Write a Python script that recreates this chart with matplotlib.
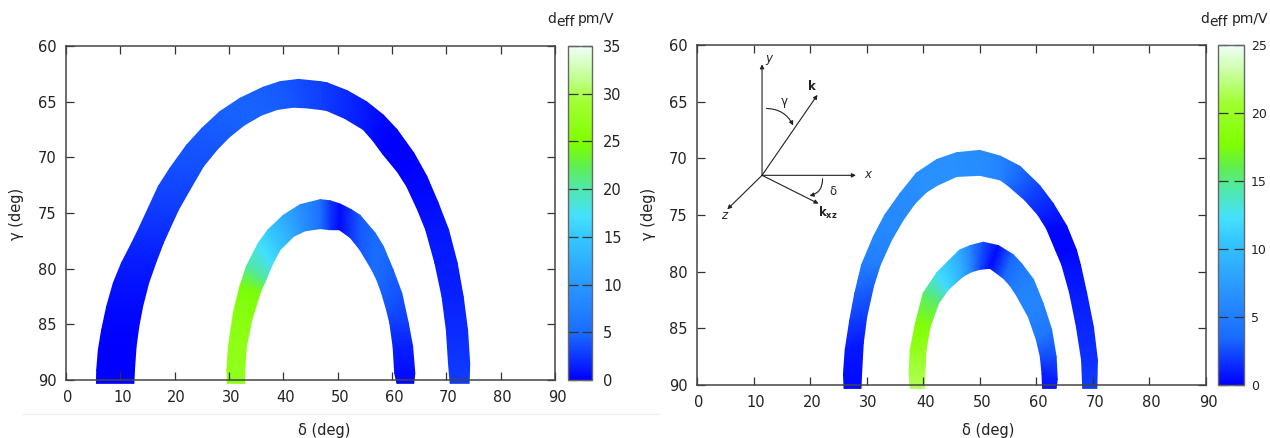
# d_eff maps, two panels
import matplotlib
matplotlib.use("Agg")
import matplotlib.pyplot as plt
import numpy as np
from matplotlib.colors import LinearSegmentedColormap, Normalize
from matplotlib.lines import Line2D
from matplotlib.transforms import ScaledTranslation

W, H = 1270, 438

# left panel, outer band
L1_out_d = [5.6, 5.65, 5.95, 6.56, 7.48, 8.7, 10.2, 12.1, 13.3, 15.3, 17, 19.1, 22.2, 25, 28.3, 32, 36.3, 39.4, 42.8, 46.8, 48, 51.7, 55.3, 58.4, 60.9, 64, 66.4, 68.5, 70.4, 72, 73.1, 73.9, 74.3, 74.2]
L1_out_g = [90.3, 89.1, 87.3, 85.5, 83.4, 81.3, 79.5, 77.7, 76.5, 74.4, 72.6, 71, 68.9, 67.4, 65.9, 64.7, 63.7, 63.2, 63, 63.2, 63.3, 64, 65, 66.2, 67.5, 69.6, 71.7, 74.1, 76.5, 79.5, 82.5, 85.5, 88.5, 90.3]
L1_in_d = [12.5, 12.6, 12.9, 13.4, 14.1, 15.2, 16.5, 17.9, 19.0, 20.7, 22.8, 25.3, 27.8, 30, 32.8, 36, 38.9, 41.8, 44, 46.8, 48, 51.3, 54.7, 56.5, 58.3, 61, 62.7, 64.7, 66.2, 67.9, 69.2, 70, 70.4, 70.7]
L1_in_g = [90.3, 89.1, 87, 85.2, 83.4, 81.3, 79.5, 77.7, 76.5, 74.7, 72.9, 70.8, 69.3, 68.2, 67.1, 66.2, 65.7, 65.5, 65.55, 65.7, 65.8, 66.5, 67.5, 68.5, 69.7, 71.3, 72.6, 74.7, 76.5, 79.5, 82.5, 85.5, 88.5, 90.3]
L1_val = [0, 0, 0, 0.2, 0.5, 0.9, 1.3, 1.8, 2.2, 2.8, 3.2, 3.6, 3.9, 4.2, 4.4, 4.6, 4.3, 4, 3.5, 3, 2.7, 2, 1.2, 0.5, 0.1, 0, 0.3, 0.6, 1, 1.3, 1.6, 2, 2.5, 2.8]

# left panel, inner band
L2_out_d = [29.7, 29.6, 29.9, 30.8, 32, 33.2, 35.4, 37.2, 40, 43.1, 46.8, 48.6, 50.5, 52.5, 54.1, 56.9, 58.4, 60.2, 61.8, 63, 63.8, 64.2, 64]
L2_out_g = [90.3, 89.1, 87, 84, 81.6, 79.8, 77.7, 76.5, 75.2, 74.25, 73.8, 73.9, 74.2, 74.7, 75.2, 76.8, 78, 80.1, 82.2, 84.9, 87, 89.4, 90.3]
L2_in_d = [32.9, 32.9, 33.2, 34.2, 35.7, 36.8, 38, 39.4, 41.9, 44, 46.8, 48.6, 50.3, 52.3, 54.1, 56.3, 57.2, 58.1, 59, 59.6, 60.2, 60.5, 60.9]
L2_in_g = [90.3, 89.1, 87, 84.6, 82.2, 81, 79.6, 78.3, 77.1, 76.6, 76.4, 76.5, 76.5, 77.2, 78.3, 80.1, 81, 82.2, 83.7, 84.9, 87, 89.4, 90.3]
L2_val = [27, 27, 26.8, 26, 24.5, 20.5, 17, 15, 12, 9, 5.5, 2.5, 0.5, 2.5, 4, 5, 5, 4.5, 3.8, 2.8, 1.5, 0.6, 0.4]

# right panel, outer band
R1_out_d = [26, 25.9, 26.2, 27, 27.9, 29.1, 31.2, 33.2, 35.9, 38.8, 42.4, 45.9, 50, 53.6, 57.1, 60.6, 63, 65.4, 67.1, 67.8, 68.9, 70.1, 70.8, 70.7]
R1_out_g = [90.3, 89, 86.9, 84.3, 81.9, 79.4, 76.9, 75, 73.1, 71.3, 70.1, 69.5, 69.3, 69.8, 70.7, 72.4, 74, 76, 78.1, 79.4, 81.9, 84.9, 87.8, 90.3]
R1_in_d = [29, 29.1, 29.4, 30, 31.2, 32.4, 34.4, 36.5, 38.5, 40.5, 42.4, 45.9, 50, 53.6, 55, 58, 60.3, 61.8, 63.4, 64.5, 65.9, 67.1, 68, 68.2]
R1_in_g = [90.3, 89, 86.3, 84, 81.3, 79.4, 77.2, 75.4, 74, 73, 72.4, 71.6, 71.5, 71.9, 72.4, 73.7, 75, 76.2, 78.1, 79.4, 81.9, 84.9, 87.8, 90.3]
R1_val = [0.3, 0.4, 0.8, 2, 3.2, 5, 5.8, 6, 6.2, 6.5, 6.5, 6.5, 6.3, 5.5, 3.8, 2.2, 1.2, 0.2, 0.1, 0.5, 0.9, 1.3, 1.6, 2]

# right panel, inner band
R2_out_d = [37.7, 37.5, 37.7, 38.6, 40, 42.4, 44.4, 46.4, 48.3, 50.6, 53.3, 55.9, 57.4, 59.5, 61.2, 62.7, 63.5, 63.7, 63.5]
R2_out_g = [90.3, 89, 86.9, 84.6, 81.9, 80.1, 79.1, 78.1, 77.7, 77.4, 77.7, 78.5, 79.3, 80.7, 82.8, 85.1, 87.5, 89.5, 90.3]
R2_in_d = [40.2, 40.3, 40.5, 41.2, 42.7, 44.4, 45.7, 47.1, 48.6, 50, 51.8, 54.2, 55.3, 56.5, 58.6, 60, 60.7, 61, 61.1]
R2_in_g = [90.3, 89, 86.9, 84.9, 82.8, 81.6, 81, 80.4, 80, 79.8, 79.7, 80.6, 81.2, 82.1, 84, 86, 87.5, 89, 90.3]
R2_val = [21.5, 21, 19.5, 18, 15.5, 12, 10.5, 8.5, 5.5, 2.5, 0.3, 3.5, 4.5, 5.5, 5.5, 4.5, 2.5, 1, 0.6]

d_ticks = np.arange(0, 100, 10)
g_ticks = [60, 65, 70, 75, 80, 85, 90]

cmap = LinearSegmentedColormap.from_list("deff", [
    (0.0, "#0000ff"), (0.14, "#1a6cff"), (0.28, "#2a96ff"), (0.43, "#35c8ff"),
    (0.49, "#45e0ff"), (0.57, "#50e8b0"), (0.64, "#60ee50"), (0.71, "#7fff00"),
    (0.83, "#a0ff30"), (0.92, "#c8ffa0"), (1.0, "#f0fff8")])


def axes_px(left, top, right, bottom):
    return fig.add_axes([left / W, 1 - bottom / H, (right - left) / W, (bottom - top) / H])


def band(ax, od, og, id_, ig, val, norm):
    X = np.array([od, id_])
    Y = np.array([og, ig])
    C = np.array([val, val])
    return ax.pcolormesh(X, Y, C, shading="gouraud", cmap=cmap, norm=norm, clip_on=False)


def title_px(x_d, x_eff, x_unit):
    # the subscript in the reference is nearly full size, so three pieces
    for x, s, y in [(x_d, "d", 23), (x_eff, "eff", 26), (x_unit, "pm/V", 23)]:
        fig.text(x / W, 1 - y / H, s, ha="left", va="baseline", fontsize=10, color="#222222")


def panel(box, cbox, vmax, cb_size, cb_pad, bands, xlab_px):
    norm = Normalize(0, vmax)
    ax = axes_px(*box)
    for b in bands:
        m = band(ax, *b, norm)
    ax.set_xlim(0, 90)
    ax.set_ylim(90, 60)
    ax.set_xticks(d_ticks)
    ax.set_yticks(g_ticks)
    ax.tick_params(direction="in", top=True, right=True, length=6, width=0.9, labelsize=10.5,
                   color="#333333", labelcolor="#222222", pad=7)
    shift = ScaledTranslation(2 / 100, 0, fig.dpi_scale_trans)
    for lab in ax.get_xticklabels():
        lab.set_transform(lab.get_transform() + shift)
    for s in ax.spines.values():
        s.set_color("#444444")
        s.set_linewidth(1.1)
    fig.text(xlab_px / W, 1 - 430 / H, "δ (deg)", ha="center", va="center", fontsize=10.5, color="#222222")
    fig.text((box[0] - 49) / W, 1 - 214 / H, "γ (deg)", rotation=90, ha="center", va="center",
             fontsize=10.5, color="#222222")
    cax = axes_px(*cbox)
    cb = fig.colorbar(m, cax=cax)
    cb.set_ticks(np.arange(0, vmax + 1, 5))
    cb.ax.tick_params(direction="in", left=True, right=True, length=7, width=0.9, labelsize=cb_size,
                      color="#333333", labelcolor="#222222", pad=cb_pad)
    cb.outline.set_edgecolor("#666666")
    cb.outline.set_linewidth(1.0)
    return ax


fig = plt.figure(figsize=(W / 100, H / 100), dpi=100)

panel((66, 46, 555, 380), (568, 46, 592, 380), 35, 10.5, 8,
      [(L1_out_d, L1_out_g, L1_in_d, L1_in_g, L1_val),
       (L2_out_d, L2_out_g, L2_in_d, L2_in_g, L2_val)], 324)
ax2 = panel((697, 45, 1206, 385), (1218, 45, 1244, 385), 25, 9, 5,
            [(R1_out_d, R1_out_g, R1_in_d, R1_in_g, R1_val),
             (R2_out_d, R2_out_g, R2_in_d, R2_in_g, R2_val)], 988)
title_px(547, 556, 578)
title_px(1200, 1209, 1232)

# faint rule under the left plot
fig.add_artist(Line2D([22 / W, 659 / W], [1 - 413.5 / H] * 2, color="#f0f0f0", lw=1))

# coordinate sketch on the right panel
origin = (11.5, 71.5)
arrow = dict(arrowstyle="-|>", color="#222222", lw=0.8, mutation_scale=6, shrinkA=0, shrinkB=0)
for end in [(11.5, 61.7), (28.1, 71.5), (5.35, 74.5), (21.3, 64.4), (21.5, 74.0)]:
    ax2.annotate("", xy=end, xytext=origin, arrowprops=arrow)
ax2.annotate("", xy=(17.0, 67.1), xytext=(12.3, 65.6),
             arrowprops=dict(arrow, connectionstyle="arc3,rad=-0.3"))
ax2.annotate("", xy=(19.9, 73.3), xytext=(22.2, 71.8),
             arrowprops=dict(arrow, connectionstyle="arc3,rad=-0.4"))
txt = dict(ha="center", va="center", fontsize=8.5, color="#222222")
ax2.text(12.7, 61.2, "y", style="italic", **txt)
ax2.text(20.3, 63.7, "k", weight="bold", **txt)
ax2.text(15.5, 65.0, "γ", **txt)
ax2.text(30.2, 71.4, "x", style="italic", **txt)
ax2.text(24.0, 72.9, "δ", **txt)
ax2.text(4.8, 75.0, "z", style="italic", **txt)
ax2.text(23.2, 74.8, r"$\mathbf{k_{xz}}$", ha="center", va="center", fontsize=8.5, color="#222222")

fig.savefig("out.png", dpi=100)
